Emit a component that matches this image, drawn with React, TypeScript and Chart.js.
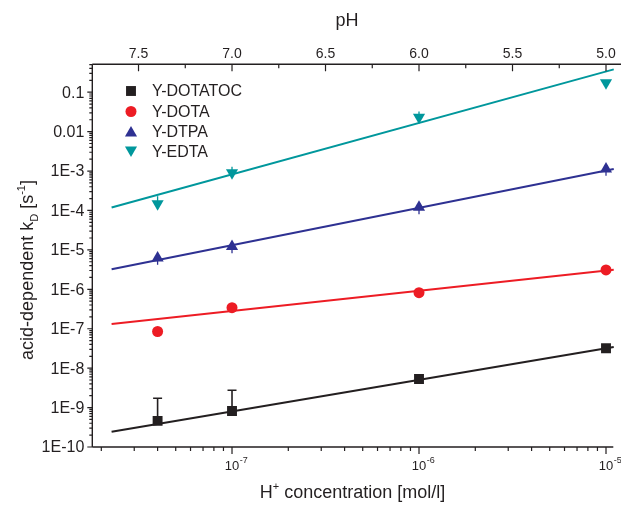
import React, { useEffect, useRef } from "react";
import { Chart, registerables } from "chart.js";

Chart.register(...registerables);

const FONT = '"Liberation Sans", Arial, Helvetica, sans-serif';

// ---- data ----
const hConc = [4e-8, 1e-7, 1e-6, 1e-5];
const seriesNames = ["Y-DOTATOC", "Y-DOTA", "Y-DTPA", "Y-EDTA"];
const kDotatoc = [4.6e-10, 8.2e-10, 5.3e-9, 3.2e-8];
const kDotatocErrUp = [1.72e-9, 2.75e-9, null, null];
const kDota = [8.5e-8, 3.43e-7, 8.2e-7, 3.1e-6];
const kDtpa = [6.2e-6, 1.21e-5, 1.21e-4, 1.12e-3];
const kDtpaErrLow = [4.19e-6, 8.2e-6, 8.04e-5, 7.57e-4];
const kEdta = [1.48e-4, 9.1e-4, 0.0233, 0.173];
const kEdtaErrUp = [2.3e-4, 1.29e-3, 0.0323, null];

const fitX = [2.27e-8, 1.1e-5];
const fitDotatoc = [2.44e-10, 3.45e-8];
const fitDota = [1.32e-7, 3.13e-6];
const fitDtpa = [3.24e-6, 1.127e-3];
const fitEdta = [1.19e-4, 0.379];

const colors = ["#231f20", "#ed1c24", "#2e3192", "#00979c"];
const pointStyles = ["rect", "circle", "triangle", "triangle"];
const pointRotations = [0, 0, 0, 180];
const pointRadii = [7, 5.5, 7, 7];

const xRange = [1.79e-8, 1.094e-5];
const yRange = [1e-10, 0.51];
const yTickValues = [1e-1, 1e-2, 1e-3, 1e-4, 1e-5, 1e-6, 1e-7, 1e-8, 1e-9, 1e-10];
const yTickLabels = ["0.1", "0.01", "1E-3", "1E-4", "1E-5", "1E-6", "1E-7", "1E-8", "1E-9", "1E-10"];
const xTickValues = [1e-7, 1e-6, 1e-5];
const xTickExponents = ["-7", "-6", "-5"];
const pHTickValues = [7.5, 7.0, 6.5, 6.0, 5.5, 5.0];
const pHTickLabels = ["7.5", "7.0", "6.5", "6.0", "5.5", "5.0"];
const pHMinorValues = [7.25, 6.75, 6.25, 5.75, 5.25];

const AXIS = "#231f20";

function logMinors(min: number, max: number): number[] {
  const out: number[] = [];
  for (let d = Math.floor(Math.log10(min)) - 1; d <= Math.ceil(Math.log10(max)); d++) {
    for (let m = 2; m <= 9; m++) {
      const v = m * Math.pow(10, d);
      if (v >= min && v <= max) out.push(v);
    }
  }
  return out;
}

type Part = [string, number, number];
function richText(ctx: CanvasRenderingContext2D, parts: Part[], x: number, y: number, align: string) {
  let total = 0;
  for (const p of parts) {
    ctx.font = `${p[1]}px ${FONT}`;
    total += ctx.measureText(p[0]).width;
  }
  let cx = align === "center" ? x - total / 2 : align === "right" ? x - total : x;
  ctx.textAlign = "left";
  ctx.textBaseline = "alphabetic";
  for (const p of parts) {
    ctx.font = `${p[1]}px ${FONT}`;
    ctx.fillText(p[0], cx, y + p[2]);
    cx += ctx.measureText(p[0]).width;
  }
}

function marker(ctx: CanvasRenderingContext2D, style: string, r: number, rot: number, x: number, y: number) {
  ctx.beginPath();
  if (style === "rect") {
    const s = Math.SQRT1_2 * r;
    ctx.rect(x - s, y - s, 2 * s, 2 * s);
  } else if (style === "circle") {
    ctx.arc(x, y, r, 0, Math.PI * 2);
  } else {
    const a0 = (rot * Math.PI) / 180 - Math.PI / 2;
    for (let k = 0; k < 3; k++) {
      const a = a0 + (k * 2 * Math.PI) / 3;
      const px = x + Math.cos(a) * r;
      const py = y + Math.sin(a) * r;
      if (k === 0) ctx.moveTo(px, py);
      else ctx.lineTo(px, py);
    }
    ctx.closePath();
  }
  ctx.fill();
}

const originPlugin = {
  id: "originAxes",
  beforeDatasetsDraw(chart: any) {
    const ctx: CanvasRenderingContext2D = chart.ctx;
    const xs = chart.scales.x;
    const ys = chart.scales.y;
    ctx.save();
    const bar = (vals: number[], errs: (number | null)[], color: string, cap: boolean) => {
      ctx.strokeStyle = color;
      ctx.lineWidth = cap ? 1.6 : 1.3;
      errs.forEach((e, i) => {
        if (e == null) return;
        const x = xs.getPixelForValue(hConc[i]);
        const y0 = ys.getPixelForValue(vals[i]);
        const y1 = ys.getPixelForValue(e);
        ctx.beginPath();
        ctx.moveTo(x, y0);
        ctx.lineTo(x, y1);
        if (cap) {
          ctx.moveTo(x - 4.5, y1);
          ctx.lineTo(x + 4.5, y1);
        }
        ctx.stroke();
      });
    };
    bar(kDotatoc, kDotatocErrUp, colors[0], true);
    bar(kDtpa, kDtpaErrLow, colors[2], false);
    bar(kEdta, kEdtaErrUp, colors[3], false);
    ctx.restore();
  },
  afterDraw(chart: any) {
    const ctx: CanvasRenderingContext2D = chart.ctx;
    const xs = chart.scales.x;
    const ys = chart.scales.y;
    const xt = chart.scales.xTop;
    const { left, right, top, bottom } = chart.chartArea;
    ctx.save();
    ctx.strokeStyle = AXIS;
    ctx.fillStyle = AXIS;
    ctx.lineWidth = 1.4;
    // axis lines
    ctx.beginPath();
    ctx.moveTo(left, top);
    ctx.lineTo(left, bottom);
    ctx.moveTo(left, bottom);
    ctx.lineTo(right, bottom);
    ctx.moveTo(left, top);
    ctx.lineTo(chart.width, top);
    ctx.stroke();

    ctx.lineWidth = 1.2;
    ctx.beginPath();
    yTickValues.forEach((v) => {
      const y = ys.getPixelForValue(v);
      ctx.moveTo(left - 5, y);
      ctx.lineTo(left, y);
    });
    logMinors(yRange[0], yRange[1]).forEach((v) => {
      const y = ys.getPixelForValue(v);
      ctx.moveTo(left - 3, y);
      ctx.lineTo(left, y);
    });
    xTickValues.forEach((v) => {
      const x = xs.getPixelForValue(v);
      ctx.moveTo(x, bottom);
      ctx.lineTo(x, bottom + 7);
    });
    logMinors(xRange[0], xRange[1]).forEach((v) => {
      const x = xs.getPixelForValue(v);
      ctx.moveTo(x, bottom);
      ctx.lineTo(x, bottom + 4);
    });
    pHTickValues.forEach((v) => {
      const x = xt.getPixelForValue(v);
      ctx.moveTo(x, top);
      ctx.lineTo(x, top + 7);
    });
    pHMinorValues.forEach((v) => {
      const x = xt.getPixelForValue(v);
      ctx.moveTo(x, top);
      ctx.lineTo(x, top + 4);
    });
    ctx.stroke();

    // y tick labels
    ctx.font = `16px ${FONT}`;
    ctx.textAlign = "right";
    ctx.textBaseline = "middle";
    yTickValues.forEach((v, i) => {
      ctx.fillText(yTickLabels[i], left - 8, ys.getPixelForValue(v) + 1);
    });
    // top tick labels
    ctx.font = `14px ${FONT}`;
    ctx.textAlign = "center";
    ctx.textBaseline = "alphabetic";
    pHTickValues.forEach((v, i) => {
      ctx.fillText(pHTickLabels[i], xt.getPixelForValue(v), 57.5);
    });
    // bottom tick labels 10^n
    xTickValues.forEach((v, i) => {
      const x = xs.getPixelForValue(v);
      ctx.font = `13px ${FONT}`;
      const w = ctx.measureText("10").width;
      ctx.textAlign = "left";
      ctx.fillText("10", x - w / 2, 469.5);
      ctx.font = `9px ${FONT}`;
      ctx.fillText(xTickExponents[i], x + w / 2 + 0.5, 463);
    });

    // titles
    ctx.font = `18px ${FONT}`;
    ctx.textAlign = "center";
    ctx.fillText("pH", 347, 26);
    richText(ctx, [["H", 18, 0], ["+", 11, -8], [" concentration [mol/l]", 18, 0]], 352.5, 498, "center");
    ctx.save();
    ctx.translate(33, 270);
    ctx.rotate(-Math.PI / 2);
    richText(
      ctx,
      [["acid-dependent k", 18, 0], ["D", 11, 5], [" [s", 18, 0], ["-1", 11, -8], ["]", 18, 0]],
      0,
      0,
      "center"
    );
    ctx.restore();

    // legend
    const lx = 131;
    const rows = [91, 111.5, 131.5, 151.5];
    seriesNames.forEach((name, i) => {
      const y = rows[i];
      ctx.fillStyle = colors[i];
      marker(ctx, pointStyles[i], pointRadii[i], pointRotations[i], lx, y + (i === 2 ? 1.5 : i === 3 ? -1.5 : 0));
      ctx.fillStyle = AXIS;
      ctx.font = `16px ${FONT}`;
      ctx.textAlign = "left";
      ctx.textBaseline = "middle";
      ctx.fillText(name, 152, y + 1);
    });
    ctx.restore();
  },
};

function pts(ys: number[]) {
  return hConc.map((x, i) => ({ x, y: ys[i] }));
}
function fit(ys: number[]) {
  return fitX.map((x, i) => ({ x, y: ys[i] }));
}

export default function App() {
  const ref = useRef<HTMLCanvasElement | null>(null);
  useEffect(() => {
    if (!ref.current) return;
    const pointSets = [kDotatoc, kDota, kDtpa, kEdta];
    const fitSets = [fitDotatoc, fitDota, fitDtpa, fitEdta];
    const datasets: any[] = [];
    pointSets.forEach((s, i) => {
      datasets.push({
        label: seriesNames[i],
        data: pts(s),
        showLine: false,
        pointStyle: pointStyles[i],
        pointRotation: pointRotations[i],
        pointRadius: pointRadii[i],
        pointBorderWidth: 0,
        pointBackgroundColor: colors[i],
        pointBorderColor: colors[i],
        order: 0,
      });
    });
    fitSets.forEach((s, i) => {
      datasets.push({
        label: seriesNames[i] + " fit",
        data: fit(s),
        showLine: true,
        borderColor: colors[i],
        borderWidth: 2,
        pointRadius: 0,
        fill: false,
        clip: false,
        order: 1,
      });
    });
    const pHMin = -Math.log10(xRange[1]);
    const pHMax = -Math.log10(xRange[0]);
    const chart = new Chart(ref.current, {
      type: "scatter",
      data: { datasets },
      options: {
        animation: false,
        responsive: false,
        events: [],
        layout: { padding: { left: 92.3, right: 7.7, top: 64.3, bottom: 62 } },
        plugins: { legend: { display: false }, tooltip: { enabled: false } },
        scales: {
          x: { type: "logarithmic", min: xRange[0], max: xRange[1], display: false },
          y: { type: "logarithmic", min: yRange[0], max: yRange[1], display: false },
          xTop: { type: "linear", position: "top", reverse: true, min: pHMin, max: pHMax, display: false },
        },
      },
      plugins: [originPlugin as any],
    });
    return () => chart.destroy();
  }, []);
  return (
    <div style={{ position: "absolute", left: 0, top: 0, width: 621, height: 509, background: "#fff" }}>
      <canvas ref={ref} width={621} height={509} style={{ display: "block" }} />
    </div>
  );
}
